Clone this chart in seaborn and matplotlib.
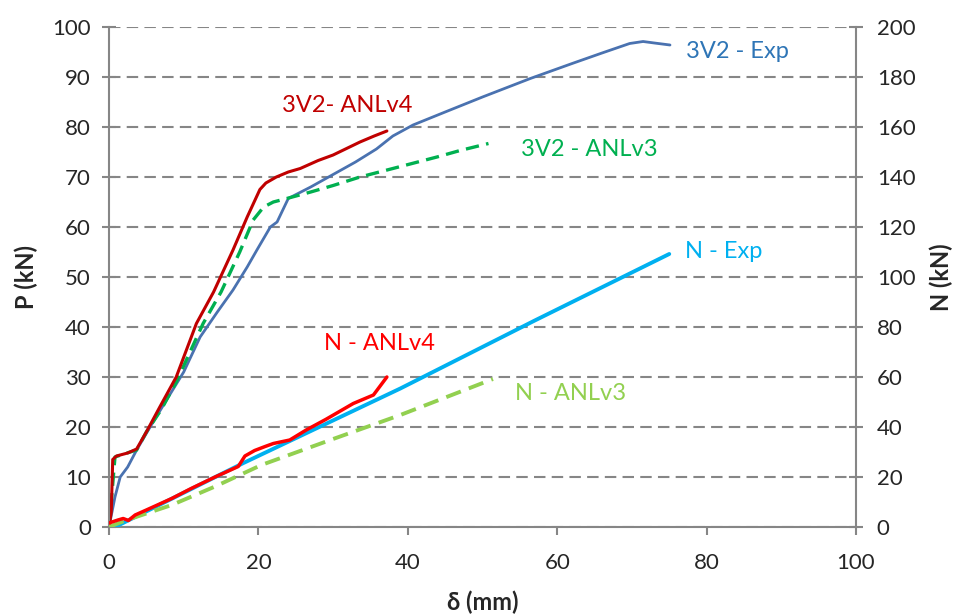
import matplotlib
matplotlib.use("Agg")
import matplotlib.pyplot as plt
import seaborn as sns
import pandas as pd

# ---- data ----
exp3v2_d = [0, 0.8, 1.5, 2.5, 3.7, 5.5, 7.7, 10, 12.2, 14.5, 16.6, 18.5, 19.8, 21.6, 22.5, 24.0,
            27, 30, 33, 35.8, 38, 40.7, 45, 50, 56.4, 62, 66, 69.7, 71.5, 73, 75.1]
exp3v2_P = [0, 6, 10, 12, 15.4, 20, 25.4, 31, 38, 43, 47.4, 52, 55.4, 60, 61, 65.7,
            68, 70.5, 73, 75.6, 78.2, 80.4, 83, 86, 89.7, 92.7, 94.8, 96.7, 97.1, 96.8, 96.4]

anlv4_3v2_d = [0, 0.3, 0.5, 1.0, 2.5, 3.7, 5, 6.8, 9, 11.7, 14, 16.6, 18.5, 20.2, 21, 22.4,
               24, 25.6, 28, 30, 33.6, 35.5, 37.2]
anlv4_3v2_P = [0, 3, 13.5, 14.2, 14.8, 15.6, 19, 24, 30, 40.7, 47, 55.4, 62, 67.5, 68.8, 70,
               71, 71.7, 73.3, 74.4, 77, 78.2, 79.2]

anlv3_3v2_d = [0, 0.3, 0.8, 2, 3.7, 5, 7, 9, 12.6, 15, 17.5, 19.3, 20.7, 22, 23.8, 27, 30,
               33.6, 38, 43.9, 47, 50.8]
anlv3_3v2_P = [0, 5, 14, 14.6, 15.4, 19, 23.5, 29, 40.7, 47, 55, 61.4, 64, 65, 65.7, 67, 68.3,
               70, 71.7, 74, 75.3, 76.7]

nexp_d = [0.8, 18, 39, 57, 75]
nexp_N = [0, 25.6, 55.4, 82.6, 109.2]

nanlv4_d = [0, 1.2, 1.9, 2.6, 3.5, 5, 8.4, 11, 14.2, 17.3, 18.2, 19.5, 20.9, 22, 24.2, 26.4,
            29, 32.7, 35.4, 37.2]
nanlv4_N = [1.6, 2.8, 3.4, 2.6, 4.8, 6.8, 11.4, 15.4, 20.0, 24.2, 28.4, 30.6, 32.2, 33.4, 34.8,
            38.8, 43, 49.4, 52.8, 60]

nanlv3_d = [0, 2, 8.4, 14.2, 20.4, 30, 39, 51.4]
nanlv3_N = [0, 2.4, 8.8, 16.2, 24.8, 35.2, 44.8, 59.2]

labels = ["3V2 - Exp", "3V2- ANLv4", "3V2 - ANLv3", "N - Exp", "N - ANLv4", "N - ANLv3"]

# ---- style ----
sns.set_style("white")
plt.rcParams['font.family'] = ['Lato', 'DejaVu Sans']

fig = plt.figure(figsize=(9.59, 6.14), dpi=100)
ax = fig.add_axes([109/959, 1-527/614, (856-109)/959, 500/614])
ax2 = ax.twinx()

gray = "#868686"

def draw(axis, x, y, color, lw, dashed=False):
    df = pd.DataFrame({"x": x, "y": y})
    sns.lineplot(data=df, x="x", y="y", ax=axis, sort=False, estimator=None,
                 color=color, linewidth=lw, linestyle=(0, (4, 2.2)) if dashed else "-")

draw(ax, exp3v2_d, exp3v2_P, "#4a72b0", 2.0)
draw(ax, anlv3_3v2_d, anlv3_3v2_P, "#00b050", 2.4, dashed=True)
draw(ax, anlv4_3v2_d, anlv4_3v2_P, "#c00000", 2.2)
draw(ax2, nexp_d, nexp_N, "#00b0f0", 2.8)
draw(ax2, nanlv3_d, nanlv3_N, "#92d050", 2.8, dashed=True)
draw(ax2, nanlv4_d, nanlv4_N, "#ff0000", 2.5)

ax.set_xlim(0, 100)
ax.set_ylim(0, 100)
ax2.set_ylim(0, 200)
ax.set_xticks(range(0, 101, 20))
ax.set_yticks(range(0, 101, 10))
ax2.set_yticks(range(0, 201, 20))

ax.yaxis.grid(True, color=gray, linestyle=(0, (5.5, 3)), linewidth=1.5)
ax.xaxis.grid(False)
ax2.grid(False)
ax.set_axisbelow(True)

for a in (ax, ax2):
    a.spines['top'].set_visible(False)
    for s in ('left', 'right', 'bottom'):
        a.spines[s].set_color(gray)
        a.spines[s].set_linewidth(1.5)
ax.spines['right'].set_visible(False)
ax2.spines['left'].set_visible(False)
ax2.spines['bottom'].set_visible(False)

ax.tick_params(axis='y', which='major', direction='inout', length=10, width=1.5, color=gray,
               labelsize=16, pad=8, left=True)
ax.tick_params(axis='x', which='major', direction='out', length=6, width=1.5, color=gray,
               labelsize=16, pad=13, bottom=True)
ax2.tick_params(axis='y', which='major', direction='inout', length=10, width=1.5, color=gray,
                labelsize=16, pad=10, right=True)

ax.set_xlabel("δ (mm)", fontsize=17, fontweight='bold', labelpad=12)
ax.set_ylabel("P (kN)", fontsize=17, fontweight='bold', labelpad=10)
ax2.set_ylabel("N (kN)", fontsize=17, fontweight='bold', labelpad=10)

# ---- annotations ----
fs = 17
ax.text(77.2, 95, labels[0], color="#2e75b6", fontsize=fs, va='center', ha='left')
ax.text(23.2, 84.4, labels[1], color="#c00000", fontsize=fs, va='center', ha='left')
ax.text(55.2, 75.4, labels[2], color="#00b050", fontsize=fs, va='center', ha='left')
ax.text(77.1, 55.0, labels[3], color="#00b0f0", fontsize=fs, va='center', ha='left')
ax.text(28.8, 36.8, labels[4], color="#ff0000", fontsize=fs, va='center', ha='left')
ax.text(54.4, 26.8, labels[5], color="#92d050", fontsize=fs, va='center', ha='left')

fig.savefig("out.png", dpi=100)
